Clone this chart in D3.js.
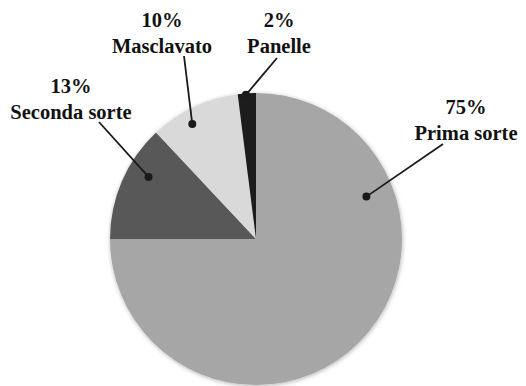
<!DOCTYPE html>
<html>
<head>
<meta charset="utf-8">
<script src="https://cdn.jsdelivr.net/npm/d3@7"></script>
<style>
  html, body { margin: 0; padding: 0; background: #fff; }
  svg { display: block; }
</style>
</head>
<body>
<svg id="chart" width="526" height="386"></svg>
<script>
// Share of the harvest by grade
const categories = ["Prima sorte", "Seconda sorte", "Masclavato", "Panelle"];
const values = [75, 13, 10, 2];
const percentLabels = ["75%", "13%", "10%", "2%"];
const colors = ["#a6a6a6", "#595959", "#d9d9d9", "#1e1e1e"];

// Label placement: leader-dot angle (deg, clockwise from top), dot radius fraction,
// text centre / first baseline, and where the leader meets the label
const labelLayout = [
  { dotAngle: 69,  dotR: 0.81, tx: 466, ty: 114, lineEnd: [443, 144] },
  { dotAngle: 300, dotR: 0.85, tx: 71,  ty: 93,  lineEnd: [99, 122] },
  { dotAngle: 331, dotR: 0.90, tx: 162, ty: 27,  lineEnd: [184, 56] },
  { dotAngle: 356, dotR: 0.99, tx: 279, ty: 27,  lineEnd: [277, 58] }
];

const svg = d3.select("#chart");
const cx = 256, cy = 239, radius = 146;

const defs = svg.append("defs");
const f = defs.append("filter").attr("id", "shadow")
  .attr("x", "-10%").attr("y", "-10%").attr("width", "120%").attr("height", "120%");
f.append("feDropShadow").attr("dx", 0.5).attr("dy", 1)
  .attr("stdDeviation", 2).attr("flood-color", "#000").attr("flood-opacity", 0.3);

const pie = d3.pie().sort(null).value(d => d)
  .startAngle(0).endAngle(2 * Math.PI);
const arc = d3.arc().innerRadius(0).outerRadius(radius);

const g = svg.append("g").attr("transform", `translate(${cx},${cy})`);

g.append("g").attr("filter", "url(#shadow)")
  .selectAll("path")
  .data(pie(values))
  .join("path")
  .attr("d", arc)
  .attr("fill", (d, i) => colors[i]);

// Leader lines and dots
const toXY = (deg, r) => {
  const a = deg * Math.PI / 180;
  return [cx + r * Math.sin(a), cy - r * Math.cos(a)];
};

labelLayout.forEach((L, i) => {
  const [dx, dy] = toXY(L.dotAngle, L.dotR * radius);
  svg.append("line")
    .attr("x1", dx).attr("y1", dy)
    .attr("x2", L.lineEnd[0]).attr("y2", L.lineEnd[1])
    .attr("stroke", "#1a1a1a").attr("stroke-width", 1.8);
  svg.append("circle")
    .attr("cx", dx).attr("cy", dy).attr("r", 4)
    .attr("fill", "#1a1a1a");

  const t = svg.append("text")
    .attr("text-anchor", "middle")
    .attr("font-family", "'Liberation Serif', 'Times New Roman', serif")
    .attr("font-weight", "bold")
    .attr("font-size", 20.5)
    .attr("fill", "#111");
  t.append("tspan").attr("x", L.tx).attr("y", L.ty).text(percentLabels[i]);
  t.append("tspan").attr("x", L.tx).attr("y", L.ty + 26).text(categories[i]);
});
</script>
</body>
</html>
